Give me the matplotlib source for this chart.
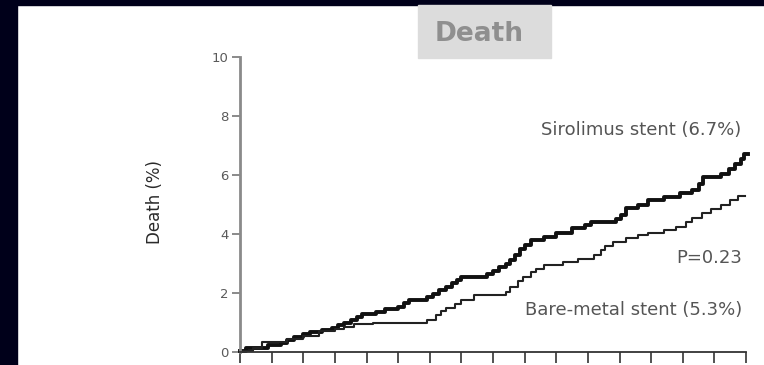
import matplotlib
matplotlib.use("Agg")
import matplotlib.pyplot as plt
from matplotlib.patches import Rectangle

# Kaplan-Meier style cumulative death (%) over follow-up intervals
sirolimus_t = [0, 0.2, 0.9, 1.3, 1.5, 1.7, 2.0, 2.2, 2.6, 2.9, 3.1, 3.3, 3.5, 3.7, 3.85,
               4.3, 4.6, 5.0, 5.2, 5.35, 5.9, 6.1, 6.3, 6.5, 6.7, 6.85, 7.0, 7.8, 8.0,
               8.2, 8.4, 8.55, 8.7, 8.85, 9.0, 9.2, 9.6, 10.0, 10.5, 10.9, 11.1, 11.9,
               12.05, 12.2, 12.6, 12.9, 13.4, 13.9, 14.3, 14.5, 14.65, 15.2, 15.45,
               15.65, 15.85, 15.95, 16.05]
sirolimus_v = [0.05, 0.13, 0.24, 0.32, 0.4, 0.5, 0.6, 0.68, 0.75, 0.82, 0.9, 0.98, 1.08,
               1.2, 1.3, 1.37, 1.45, 1.53, 1.65, 1.76, 1.85, 1.97, 2.1, 2.2, 2.33, 2.45,
               2.55, 2.65, 2.75, 2.87, 3.0, 3.12, 3.3, 3.5, 3.63, 3.8, 3.9, 4.05, 4.2,
               4.32, 4.42, 4.5, 4.65, 4.88, 5.0, 5.15, 5.25, 5.38, 5.5, 5.7, 5.93, 6.05,
               6.2, 6.38, 6.55, 6.7, 6.7]

bare_t = [0, 0.4, 0.7, 1.5, 2.0, 2.5, 3.0, 3.3, 3.6, 4.2, 5.9, 6.2, 6.35, 6.5, 6.8,
          7.0, 7.4, 8.4, 8.55, 8.8, 8.95, 9.2, 9.35, 9.6, 10.2, 10.7, 11.2, 11.4,
          11.55, 11.8, 12.2, 12.6, 12.9, 13.4, 13.8, 14.1, 14.3, 14.6, 14.9, 15.2,
          15.5, 15.75, 15.98]
bare_v = [0.05, 0.15, 0.35, 0.45, 0.55, 0.7, 0.78, 0.85, 0.95, 1.0, 1.08, 1.25, 1.4,
          1.5, 1.62, 1.76, 1.93, 2.05, 2.2, 2.4, 2.54, 2.7, 2.8, 2.95, 3.05, 3.15,
          3.3, 3.45, 3.6, 3.73, 3.85, 3.95, 4.05, 4.15, 4.25, 4.4, 4.55, 4.7, 4.85,
          5.0, 5.15, 5.3, 5.3]

y_ticks = [0, 2, 4, 6, 8, 10]
y_tick_labels = ["0", "2", "4", "6", "8", "10"]
x_ticks = list(range(0, 17))

sirolimus_label = "Sirolimus stent (6.7%)"
bare_label = "Bare-metal stent (5.3%)"
p_label = "P=0.23"

W, H = 764, 365
fig = plt.figure(figsize=(W / 100, H / 100), dpi=100)
fig.patch.set_facecolor("white")

frame = "#00001a"
fig.add_artist(Rectangle((0, 1 - 5 / H), 1, 5 / H, transform=fig.transFigure,
                         color=frame, zorder=0))
fig.add_artist(Rectangle((0, 0), 17 / W, 1, transform=fig.transFigure,
                         color=frame, zorder=0))

# title panel
fig.add_artist(Rectangle((418 / W, 1 - 58 / H), (551 - 418) / W, (58 - 5) / H,
                         transform=fig.transFigure, color="#dcdcdc", zorder=0))
fig.text(479 / W, 1 - 34 / H, "Death", ha="center", va="center",
         fontsize=19, fontweight="bold", color="#8f8f8f", family="DejaVu Sans")

ax = fig.add_axes([240 / W, 13 / H, 506 / W, 295 / H])
ax.set_facecolor("none")
ax.set_xlim(0, 16)
ax.set_ylim(0, 10)

ax.step(sirolimus_t, sirolimus_v, where="post", color="#111111", lw=2.8,
        clip_on=False)
ax.step(bare_t, bare_v, where="post", color="#222222", lw=1.5, clip_on=False)

for s in ("top", "right"):
    ax.spines[s].set_visible(False)
ax.spines["left"].set_color("#8a8a8a")
ax.spines["left"].set_linewidth(2)
ax.spines["bottom"].set_color("#333333")
ax.spines["bottom"].set_linewidth(1.3)

ax.set_yticks(y_ticks)
ax.set_yticklabels(y_tick_labels)
ax.set_xticks(x_ticks)
ax.set_xticklabels([])
ax.tick_params(axis="y", direction="out", length=6, width=1.2, color="#777777",
               labelsize=9.5, labelcolor="#5a5a5a", pad=2)
ax.tick_params(axis="x", direction="out", length=8, width=1.2, color="#333333")
for lab in ax.get_yticklabels():
    lab.set_family("DejaVu Sans")

fig.text(155 / W, 1 - 202 / H, "Death (%)", rotation=90, ha="center", va="center",
         fontsize=12, color="#2a2a2a", family="DejaVu Sans")

txt = dict(ha="right", va="center", fontsize=13, color="#555555", family="DejaVu Sans")
fig.text(741 / W, 1 - 130 / H, sirolimus_label, **txt)
fig.text(742 / W, 1 - 258 / H, p_label, **txt)
fig.text(742 / W, 1 - 310 / H, bare_label, **txt)

fig.savefig("out.png", dpi=100, facecolor="white")
